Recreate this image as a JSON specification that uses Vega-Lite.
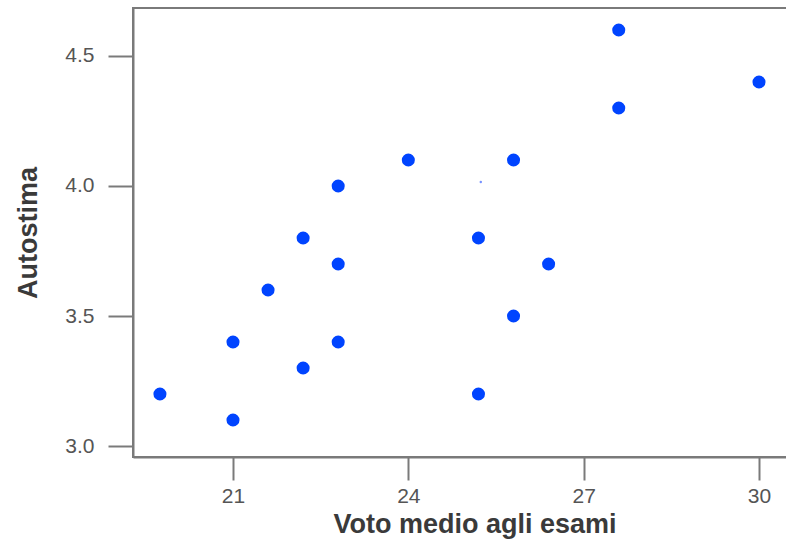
{
  "$schema": "https://vega.github.io/schema/vega-lite/v6.json",
  "width": 690,
  "height": 449,
  "autosize": {"type": "none"},
  "padding": {"left": 133, "top": 8, "right": 0, "bottom": 91},
  "background": "white",
  "config": {
    "view": {"stroke": "#7a7a7a", "strokeWidth": 2},
    "axis": {
      "grid": false,
      "domainColor": "#7a7a7a",
      "domainWidth": 2,
      "tickColor": "#7a7a7a",
      "tickWidth": 2,
      "labelFont": "Liberation Sans",
      "labelFontSize": 21,
      "labelColor": "#555555",
      "titleFont": "Liberation Sans",
      "titleFontSize": 27,
      "titleFontWeight": "bold",
      "titleColor": "#3a3a3a"
    }
  },
  "datasets": {
    "pts": [
      {"voto": 19.75, "autostima": 3.2},
      {"voto": 21.0, "autostima": 3.4},
      {"voto": 21.0, "autostima": 3.1},
      {"voto": 21.6, "autostima": 3.6},
      {"voto": 22.2, "autostima": 3.8},
      {"voto": 22.2, "autostima": 3.3},
      {"voto": 22.8, "autostima": 4.0},
      {"voto": 22.8, "autostima": 3.7},
      {"voto": 22.8, "autostima": 3.4},
      {"voto": 24.0, "autostima": 4.1},
      {"voto": 25.2, "autostima": 3.8},
      {"voto": 25.2, "autostima": 3.2},
      {"voto": 25.8, "autostima": 4.1},
      {"voto": 25.8, "autostima": 3.5},
      {"voto": 26.4, "autostima": 3.7},
      {"voto": 27.6, "autostima": 4.6},
      {"voto": 27.6, "autostima": 4.3},
      {"voto": 30.0, "autostima": 4.4}
    ],
    "speck": [
      {"voto": 25.24, "autostima": 4.015}
    ]
  },
  "layer": [
    {
      "data": {"name": "pts"},
      "mark": {"type": "circle", "size": 170, "color": "#0044ff", "opacity": 1},
      "encoding": {
        "x": {
          "field": "voto", "type": "quantitative",
          "scale": {"domain": [19.289, 31.095], "nice": false, "zero": false},
          "axis": {"values": [21, 24, 27, 30], "format": "d", "tickSize": 23, "labelPadding": 5, "title": "Voto medio agli esami", "titlePadding": 5, "titleAnchor": "start", "titleX": 200}
        },
        "y": {
          "field": "autostima", "type": "quantitative",
          "scale": {"domain": [2.9577, 4.6846], "nice": false, "zero": false},
          "axis": {"values": [3.0, 3.5, 4.0, 4.5], "format": ".1f", "tickSize": 25, "labelPadding": 14, "title": "Autostima", "titlePadding": 22}
        }
      }
    },
    {
      "data": {"name": "speck"},
      "mark": {"type": "circle", "size": 6, "color": "#5577ff", "opacity": 0.8},
      "encoding": {
        "x": {"field": "voto", "type": "quantitative"},
        "y": {"field": "autostima", "type": "quantitative"}
      }
    }
  ]
}
